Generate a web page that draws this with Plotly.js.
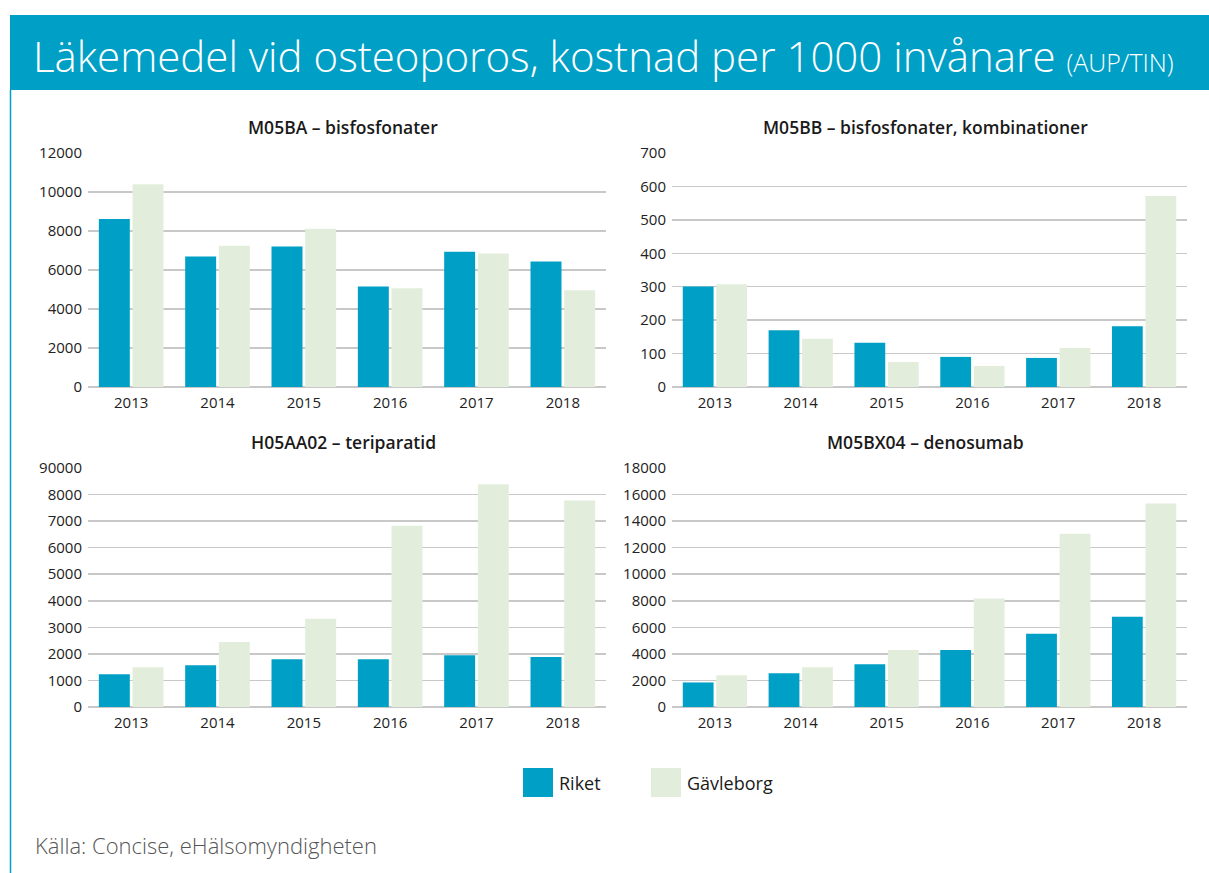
<!DOCTYPE html>
<html>
<head>
<meta charset="utf-8">
<script src="https://cdn.plot.ly/plotly-3.0.1.min.js"></script>
<style>html,body{margin:0;padding:0;background:#fff;}#chart{width:1209px;height:873px;}</style>
</head>
<body>
<div id="chart"></div>
<script>
// ---- data ----
const years = ["2013", "2014", "2015", "2016", "2017", "2018"];
const seriesNames = ["Riket", "Gävleborg"];
const panelTitles = ["M05BA – bisfosfonater", "M05BB – bisfosfonater, kombinationer", "H05AA02 – teriparatid", "M05BX04 – denosumab"];

const bisfosRiket = [8620, 6690, 7200, 5160, 6940, 6430];
const bisfosGavle = [10400, 7250, 8110, 5060, 6840, 4960];

const kombRiket = [301, 170, 132, 90, 87, 182];
const kombGavle = [307, 144, 75, 63, 117, 571];

const teriRiket = [1230, 1570, 1800, 1800, 1950, 1880];
const teriGavle = [1500, 2450, 3320, 6830, 8390, 7780];

const denoRiket = [1850, 2540, 3220, 4290, 5510, 6800];
const denoGavle = [2390, 3000, 4290, 8170, 13050, 15330];

const ticks1 = [0, 2000, 4000, 6000, 8000, 10000, 12000];
const ticks2 = [0, 100, 200, 300, 400, 500, 600, 700];
const ticks3 = [0, 1000, 2000, 3000, 4000, 5000, 6000, 7000, 8000, 9000];
const ticks3Text = ["0", "1000", "2000", "3000", "4000", "5000", "6000", "7000", "8000", "90000"];
const ticks4 = [0, 2000, 4000, 6000, 8000, 10000, 12000, 14000, 16000, 18000];

const colors = ["#00a0c6", "#e2eedb"];

const W = 1209, H = 873;
const px = v => v / W;
const py = v => 1 - v / H;
const FONT = "Open Sans, sans-serif";

const panels = [
  {r: bisfosRiket, g: bisfosGavle, ticks: ticks1, text: ticks1.map(String), max: 12000, x: [88, 606], y: [387, 153]},
  {r: kombRiket, g: kombGavle, ticks: ticks2, text: ticks2.map(String), max: 700, x: [672, 1187], y: [387, 153]},
  {r: teriRiket, g: teriGavle, ticks: ticks3, text: ticks3Text, max: 9000, x: [88, 606], y: [707, 468]},
  {r: denoRiket, g: denoGavle, ticks: ticks4, text: ticks4.map(String), max: 18000, x: [672, 1187], y: [707, 468]}
];

const traces = [];
const layout = {
  width: W, height: H,
  margin: {l: 0, r: 0, t: 0, b: 0},
  paper_bgcolor: "#fff", plot_bgcolor: "rgba(0,0,0,0)",
  showlegend: false,
  barmode: "group",
  bargap: 0.22,
  bargroupgap: 0.08,
  font: {family: FONT, color: "#222"},
  shapes: [], annotations: []
};

panels.forEach((p, i) => {
  const n = i + 1;
  const xa = "x" + (n === 1 ? "" : n), ya = "y" + (n === 1 ? "" : n);
  traces.push({type: "bar", x: years, y: p.r, name: seriesNames[0], marker: {color: colors[0]}, xaxis: xa, yaxis: ya});
  traces.push({type: "bar", x: years, y: p.g, name: seriesNames[1], marker: {color: colors[1]}, xaxis: xa, yaxis: ya});
  const xk = "xaxis" + (n === 1 ? "" : n), yk = "yaxis" + (n === 1 ? "" : n);
  layout[xk] = {
    domain: [px(p.x[0]), px(p.x[1])], anchor: ya, type: "category",
    showgrid: false, showline: false, zeroline: false, ticks: "",
    ticklabelstandoff: 5,
    tickfont: {size: 15, color: "#222", family: FONT}
  };
  layout[yk] = {
    domain: [py(p.y[0]), py(p.y[1])], anchor: xa, range: [0, p.max],
    tickvals: p.ticks, ticktext: p.text,
    showgrid: true, gridcolor: "#c8c8c8", gridwidth: 1.5,
    zeroline: true, zerolinecolor: "#c8c8c8", zerolinewidth: 1.5,
    showline: false, ticks: "",
    ticklabelstandoff: 5,
    tickfont: {size: 15, color: "#222", family: FONT}
  };
  layout.annotations.push({
    text: panelTitles[i], xref: "paper", yref: "paper",
    x: (px(p.x[0]) + px(p.x[1])) / 2 - 0.003, y: py(p.y[1] - 26), xanchor: "center", yanchor: "middle",
    showarrow: false, font: {size: 17.5, color: "#1a1a1a", family: FONT, weight: 600}
  });
});

// header band and left rule
layout.shapes.push({type: "rect", xref: "paper", yref: "paper", x0: px(10), x1: 1, y0: py(90), y1: py(15), fillcolor: "#00a0c6", line: {width: 0}, layer: "below"});
layout.shapes.push({type: "line", xref: "paper", yref: "paper", x0: px(10.5), x1: px(10.5), y0: 0, y1: py(90), line: {color: "#00a0c6", width: 1.5}});

layout.annotations.push({
  text: "Läkemedel vid osteoporos, kostnad per 1000 invånare <span style='font-size:25px'>(AUP/TIN)</span>",
  xref: "paper", yref: "paper", x: px(31), y: py(55), xanchor: "left", yanchor: "middle",
  showarrow: false, font: {size: 42, color: "#ffffff", family: FONT, weight: 300}
});

// legend
const legendX = [523, 651];
seriesNames.forEach((s, i) => {
  layout.shapes.push({type: "rect", xref: "paper", yref: "paper", x0: px(legendX[i]), x1: px(legendX[i] + 30), y0: py(797), y1: py(768), fillcolor: colors[i], line: {width: 0}});
  layout.annotations.push({text: s, xref: "paper", yref: "paper", x: px(legendX[i] + 34), y: py(783), xanchor: "left", yanchor: "middle", showarrow: false, font: {size: 18, color: "#1a1a1a", family: FONT}});
});

// source
layout.annotations.push({text: "Källa: Concise, eHälsomyndigheten", xref: "paper", yref: "paper", x: px(33), y: py(845), xanchor: "left", yanchor: "middle", showarrow: false, font: {size: 22, color: "#555", family: FONT, weight: 300}});

Plotly.newPlot("chart", traces, layout, {displayModeBar: false, staticPlot: true});
</script>
</body>
</html>
